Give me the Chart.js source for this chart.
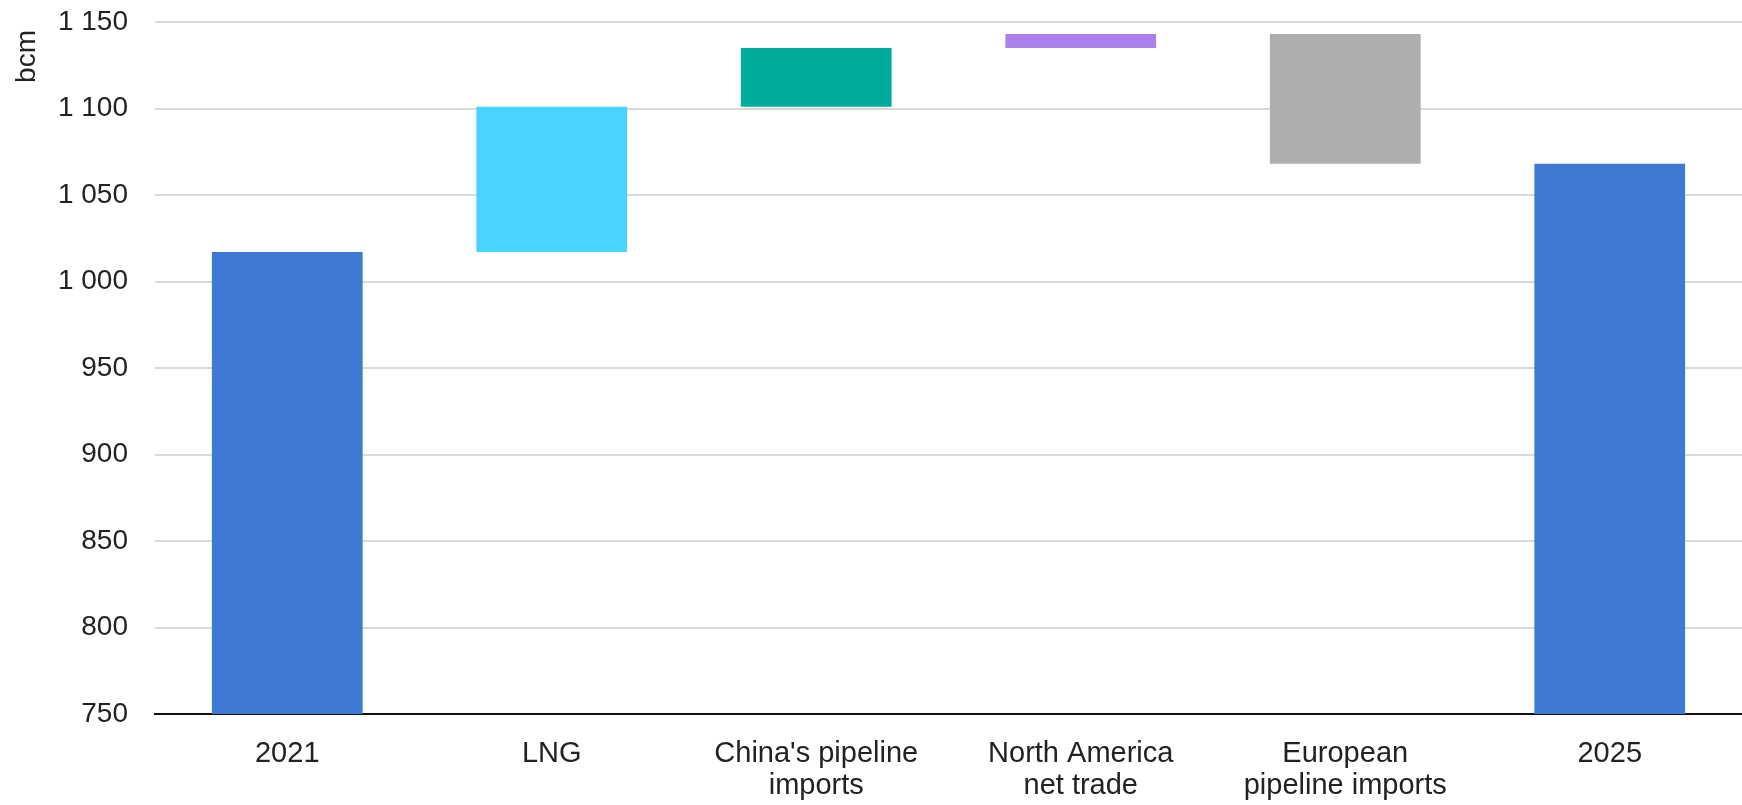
<!DOCTYPE html>
<html>
<head>
<meta charset="utf-8">
<script src="https://cdn.jsdelivr.net/npm/chart.js@4"></script>
<style>
  html, body { margin: 0; padding: 0; background: #ffffff; }
  #wrap { width: 1742px; height: 805px; position: relative; }
</style>
</head>
<body>
<div id="wrap"><canvas id="chart"></canvas></div>
<script>
// Gas trade balance walk, 2021 to 2025 (bcm)
const categories = ['2021', 'LNG', ["China's pipeline", 'imports'], ['North America', 'net trade'], ['European', 'pipeline imports'], '2025'];
const barKinds = ['total', 'change', 'change', 'change', 'change', 'total'];
const barValues = [1017, 84, 34, 8, -75, 1068];
const yTicks = { min: 750, max: 1150, step: 50 };
const unitLabel = 'bcm';
const barColors = ['#3E79D3', '#4AD3FF', '#00AC9C', '#AB80EB', '#AEAEAE', '#3E79D3'];

// Turn totals and increments into floating [from, to] ranges
const ranges = [];
let running = 0;
barValues.forEach((v, i) => {
  if (barKinds[i] === 'total') {
    ranges.push([yTicks.min, v]);
    running = v;
  } else {
    ranges.push([running, running + v]);
    running += v;
  }
});

const fontFamily = '"Liberation Sans", Arial, "DejaVu Sans", sans-serif';
const textColor = '#222222';

// Rotated unit label placed beside the top of the value axis
const unitLabelPlugin = {
  id: 'unitLabel',
  afterDraw(chart) {
    const { ctx, chartArea } = chart;
    ctx.save();
    ctx.translate(27, chartArea.top + 8);
    ctx.rotate(-Math.PI / 2);
    ctx.font = '28px ' + fontFamily;
    ctx.fillStyle = textColor;
    ctx.textAlign = 'right';
    ctx.textBaseline = 'middle';
    ctx.fillText(unitLabel, 0, 0);
    ctx.restore();
  }
};

new Chart(document.getElementById('chart'), {
  type: 'bar',
  data: {
    labels: categories,
    datasets: [{
      data: ranges,
      backgroundColor: barColors,
      borderWidth: 0,
      borderSkipped: false,
      categoryPercentage: 1.0,
      barPercentage: 0.57
    }]
  },
  plugins: [unitLabelPlugin],
  options: {
    responsive: true,
    maintainAspectRatio: false,
    animation: false,
    layout: { padding: { top: 22, right: 0, bottom: 0, left: 0 } },
    plugins: {
      legend: { display: false },
      tooltip: { enabled: false }
    },
    scales: {
      x: {
        afterFit: (scale) => { scale.height = 91; },
        grid: { display: false, drawTicks: false },
        border: { display: true, color: '#111111', width: 2 },
        ticks: {
          color: textColor,
          padding: 24,
          maxRotation: 0,
          autoSkip: false,
          font: { family: fontFamily, size: 29, lineHeight: 1.1 }
        }
      },
      y: {
        min: yTicks.min,
        max: yTicks.max,
        afterFit: (scale) => {
          scale.width = 155;
          scale.paddingTop = 0;
          scale.paddingBottom = 0;
        },
        grid: { color: '#D9D9D9', lineWidth: 2, drawTicks: false, tickLength: 0 },
        border: { display: false },
        ticks: {
          stepSize: yTicks.step,
          color: textColor,
          padding: 27,
          font: { family: fontFamily, size: 28 },
          callback: (v) => {
            const s = String(v);
            return s.length > 3 ? s.slice(0, s.length - 3) + ' ' + s.slice(-3) : s;
          }
        }
      }
    }
  }
});
</script>
</body>
</html>
